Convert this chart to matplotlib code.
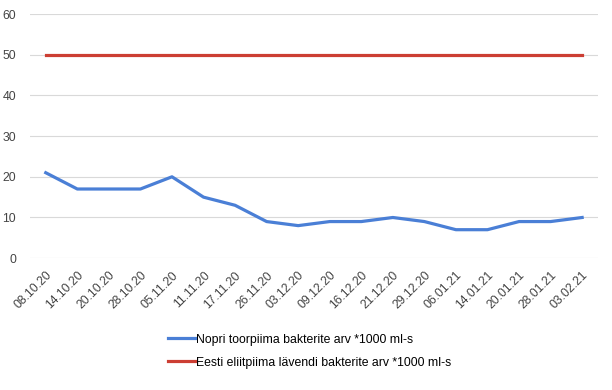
import matplotlib
matplotlib.use('Agg')
import matplotlib.pyplot as plt

dates = ['08.10.20', '14.10.20', '20.10.20', '28.10.20', '05.11.20', '11.11.20',
         '17.11.20', '26.11.20', '03.12.20', '09.12.20', '16.12.20', '21.12.20',
         '29.12.20', '06.01.21', '14.01.21', '20.01.21', '28.01.21', '03.02.21']
nopri = [21, 17, 17, 17, 20, 15, 13, 9, 8, 9, 9, 10, 9, 7, 7, 9, 9, 10]
eliit = [50] * len(dates)

plt.rcParams['font.family'] = ['Liberation Sans', 'DejaVu Sans']

fig = plt.figure(figsize=(6.12, 3.9), dpi=100)
ax = fig.add_axes([0.049, 0.338, 0.928, 0.626])

x = range(len(dates))
ax.plot(x, nopri, color='#4a7fd6', lw=2.3, label='Nopri toorpiima bakterite arv *1000 ml-s')
ax.plot(x, eliit, color='#cc3e33', lw=2.3, label='Eesti eliitpiima lävendi bakterite arv *1000 ml-s')

ax.set_xlim(-0.5, len(dates) - 0.5)
ax.set_ylim(0, 60)
ax.set_yticks(range(0, 61, 10))
ax.set_xticks(list(x))
ax.set_xticklabels(dates, rotation=45, ha='right', rotation_mode='anchor')
ax.grid(axis='y', color='#d9d9d9', lw=0.8)
ax.set_axisbelow(True)
for s in ax.spines.values():
    s.set_visible(False)
ax.tick_params(length=0, labelsize=8.8, colors='#444444')
ax.tick_params(axis='y', pad=10)
ax.tick_params(axis='x', pad=8)

fig.legend(loc='upper left', bbox_to_anchor=(0.265, 0.16), frameon=False, fontsize=8.8,
           handlelength=2.2, handletextpad=0.1, labelspacing=0.9, borderpad=0)

fig.savefig('out.png', dpi=100)
